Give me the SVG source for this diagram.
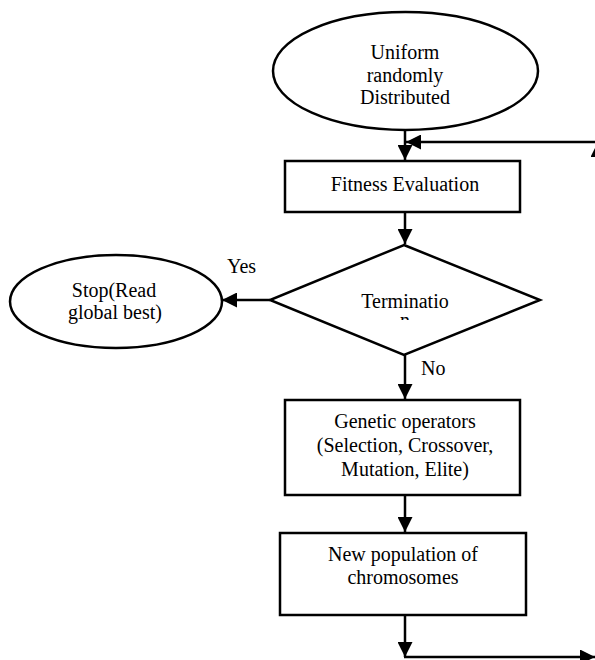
<svg xmlns="http://www.w3.org/2000/svg" width="595" height="660" viewBox="0 0 595 660">
<style>
.s{fill:#fff;stroke:#000;stroke-width:2.5}
.c{fill:none;stroke:#000;stroke-width:2.5}
.t{font-family:"Liberation Serif","Times New Roman",serif;font-size:20px;fill:#000;text-anchor:middle}
.l{font-family:"Liberation Serif","Times New Roman",serif;font-size:20px;fill:#000}
</style>
<defs>
<marker id="ah" viewBox="0 0 10 10" refX="10" refY="5" markerWidth="6" markerHeight="6" markerUnits="strokeWidth" orient="auto">
<path d="M0,0 L10,5 L0,10 z" fill="#000"/>
</marker>
<clipPath id="clipN"><rect x="380" y="300" width="50" height="20"/></clipPath>
</defs>
<rect width="595" height="660" fill="#fff"/>
<g id="connectors">
<line class="c" x1="405" y1="130" x2="405" y2="160" marker-end="url(#ah)"/>
<line class="c" x1="598" y1="142" x2="406" y2="142" marker-end="url(#ah)"/>
<line class="c" x1="598" y1="657" x2="598" y2="142" marker-end="url(#ah)"/>
<line class="c" x1="405" y1="212" x2="405" y2="244" marker-end="url(#ah)"/>
<line class="c" x1="270" y1="300" x2="222" y2="300" marker-end="url(#ah)"/>
<line class="c" x1="405" y1="355" x2="405" y2="399" marker-end="url(#ah)"/>
<line class="c" x1="405" y1="495" x2="405" y2="532" marker-end="url(#ah)"/>
<line class="c" x1="405" y1="615" x2="405" y2="657" marker-end="url(#ah)"/>
<line class="c" x1="404" y1="657" x2="595" y2="657" marker-end="url(#ah)"/>
<text class="l" x="227" y="273">Yes</text>
<text class="l" x="421" y="375">No</text>
</g>
<g id="start">
<ellipse class="s" cx="405.5" cy="71" rx="132.5" ry="59"/>
<text class="t" x="405" y="59">Uniform</text>
<text class="t" x="405" y="82">randomly</text>
<text class="t" x="405" y="104">Distributed</text>
</g>
<g id="fitness">
<rect class="s" x="285" y="161" width="235" height="51"/>
<text class="t" x="405" y="191">Fitness Evaluation</text>
</g>
<g id="termination">
<polygon class="s" points="404,245 540,300 404,355 270,300"/>
<text class="t" x="405" y="308">Terminatio</text>
<text class="t" x="405" y="327" clip-path="url(#clipN)">n</text>
</g>
<g id="stop">
<ellipse class="s" cx="116" cy="301.5" rx="106" ry="46.5"/>
<text class="t" x="114" y="297">Stop(Read</text>
<text class="t" x="115" y="319">global best)</text>
</g>
<g id="genetic">
<rect class="s" x="285" y="400" width="235" height="95"/>
<text class="t" x="405" y="428">Genetic operators</text>
<text class="t" x="405" y="452">(Selection, Crossover,</text>
<text class="t" x="405" y="476">Mutation, Elite)</text>
</g>
<g id="newpop">
<rect class="s" x="280" y="533" width="246" height="82"/>
<text class="t" x="403" y="561">New population of</text>
<text class="t" x="403" y="584">chromosomes</text>
</g>
</svg>
